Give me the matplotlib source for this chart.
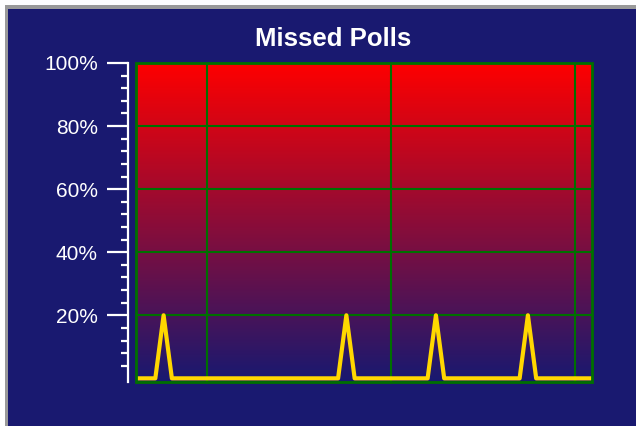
import matplotlib.pyplot as plt
import numpy as np
from matplotlib.patches import Rectangle

# Poll samples (minutes from start) and missed polls (%)
times = [0, 6.3, 9.0, 11.7, 65.9, 68.6, 71.3, 95.1, 97.8, 100.5, 125.1, 127.8, 130.5, 148.7]
missed = [0, 0, 20, 0, 0, 20, 0, 0, 20, 0, 0, 20, 0, 0]

y_ticks = [20, 40, 60, 80, 100]
y_labels = ['20%', '40%', '60%', '80%', '100%']
x_grid = [23, 83, 143]

navy = '#191970'
green = '#007000'

plt.rcParams['font.family'] = ['Liberation Sans', 'DejaVu Sans']

fig = plt.figure(figsize=(6.36, 4.26), dpi=100)
fig.patch.set_facecolor('white')

# window frame: gray bevel then navy panel
W, H = 636, 426
fig.patches.append(Rectangle((5 / W, 0), 1, 1 - 5 / H, transform=fig.transFigure,
                             facecolor='#9a9a9a', edgecolor='none', zorder=-3))
fig.patches.append(Rectangle((8 / W, 0), 1, 1 - 9 / H, transform=fig.transFigure,
                             facecolor=navy, edgecolor='none', zorder=-2))

ax = fig.add_axes([136 / W, 1 - 381.5 / H, 456 / W, 318.5 / H])
ax.set_facecolor(navy)
ax.set_xlim(0, 148.7)
ax.set_ylim(-1, 100)

# red-to-navy gradient background
grad = np.linspace(0, 1, 256).reshape(-1, 1)
top = np.array([1.0, 0.0, 0.0])
bot = np.array([25, 25, 112]) / 255
img = bot + grad[..., None] * (top - bot)
ax.imshow(img, extent=[0, 148.7, -1, 100], origin='lower', aspect='auto', zorder=0)

# grid
for y in y_ticks[:-1]:
    ax.axhline(y, color=green, lw=1.5, zorder=1)
for x in x_grid:
    ax.axvline(x, color=green, lw=1.5, zorder=1)

ax.plot(times, missed, color='#FFD700', lw=3, zorder=3)

# green frame around the plot area
ax.add_patch(Rectangle((0, 0), 1, 1, transform=ax.transAxes, fill=False,
                       edgecolor=green, lw=2, zorder=4, clip_on=False))

for s in ['top', 'right', 'bottom']:
    ax.spines[s].set_visible(False)
ax.spines['left'].set_position(('outward', 6))
ax.spines['left'].set_color('white')
ax.spines['left'].set_linewidth(1.6)
ax.spines['left'].set_bounds(-1, 100)

ax.set_xticks([])
ax.set_yticks(y_ticks)
ax.set_yticklabels(y_labels)
ax.set_yticks([v for v in range(4, 100, 4) if v % 20 != 0], minor=True)
ax.tick_params(axis='y', which='major', length=15, width=1.6, color='white',
               labelcolor='white', labelsize=15, pad=6.5)
ax.tick_params(axis='y', which='minor', length=5, width=1.6, color='white')

fig.text(333 / W, 1 - 39 / H, 'Missed Polls', color='white', fontsize=18.5,
         fontweight='bold', ha='center', va='center')

plt.savefig('out.png', dpi=100, facecolor=fig.get_facecolor())
